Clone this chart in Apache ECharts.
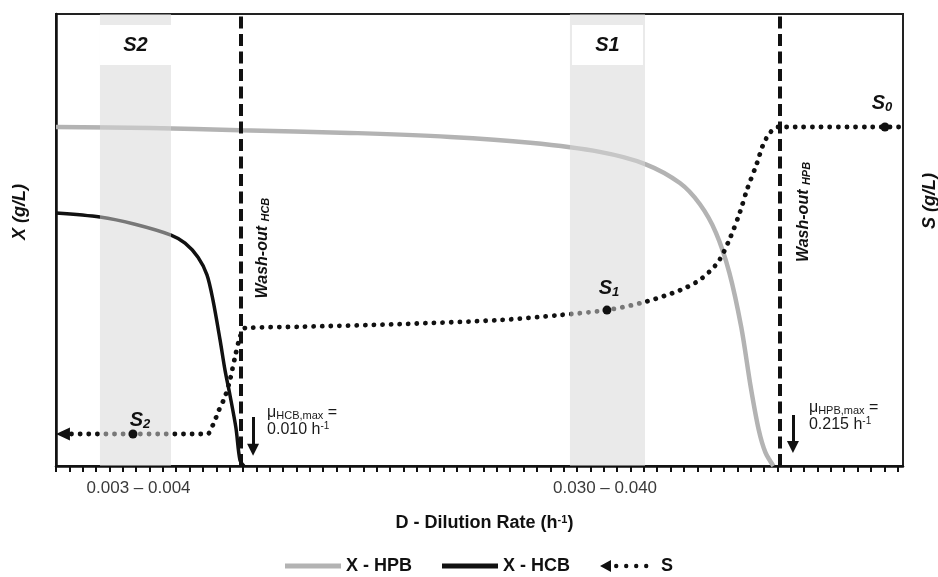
<!DOCTYPE html>
<html><head><meta charset="utf-8">
<script src="https://cdn.jsdelivr.net/npm/echarts@6/dist/echarts.min.js"></script>
<style>html,body{margin:0;padding:0;background:#fff}#c{width:938px;height:577px}</style>
</head><body><div id="c"></div>
<script>
// ---- data (schematic units: x in tick steps, y in % of axis height) ----
const hpbX = [0, 7.04, 13.77, 22.0, 29.5, 35.5, 40.7, 44.1, 46.7, 48.2, 49.4, 50.4, 51.3, 52.0, 52.6, 53.1, 53.7];
const hpbY = [75.0, 74.8, 74.3, 73.7, 72.8, 71.5, 69.5, 66.8, 62.6, 57.9, 51.6, 42.8, 30.6, 17.5, 8.0, 3.0, 0];

const hcbX = [0, 3.29, 5.91, 8.61, 9.66, 10.63, 11.30, 11.75, 12.28, 12.65, 13.02, 13.47, 13.77, 14.07];
const hcbY = [56.0, 55.1, 53.5, 51.1, 49.3, 46.2, 42.3, 36.7, 27.9, 21.2, 15.7, 8.4, 1.3, 0];

const sX = [0.52, 11.3, 11.75, 12.2, 12.65, 13.02, 13.40, 13.77, 14.15, 18.26, 25.75, 33.23, 37.72, 41.24, 44.09, 46.71, 48.2, 49.55, 50.45, 51.2, 51.72, 52.47, 52.92, 53.44, 54.04, 63.4];
const sY = [7.08, 7.08, 9.1, 12.4, 15.3, 19.0, 24.1, 28.5, 30.5, 30.8, 31.4, 32.3, 33.4, 34.5, 36.3, 38.9, 41.2, 45.1, 50.4, 56.2, 61.1, 67.0, 71.0, 73.7, 75.0, 75.0];

const sPointNames = ['2', '1', '0'];
const sPointX = [5.76, 41.24, 62.05];
const sPointY = [7.08, 34.5, 75.0];

const bandNames = ['S2', 'S1'];
const bandFrom = [3.29, 38.47];
const bandTo = [8.61, 44.09];

const washoutNames = ['HCB', 'HPB'];
const washoutX = [13.82, 54.19];

const muNames = ['HCB', 'HPB'];
const muValues = ['0.010', '0.215'];

const xTickValues = [0,1,2,3,4,5,6,7,8,9,10,11,12,13,14,15,16,17,18,19,20,21,22,23,24,25,26,27,28,29,30,31,32,33,34,35,36,37,38,39,40,41,42,43,44,45,46,47,48,49,50,51,52,53,54,55,56,57,58,59,60,61,62,63];
const xRangeLabels = ['0.003 – 0.004', '0.030 – 0.040'];
const xRangeLabelAt = [6.18, 41.1];

// ---- chart ----
const FONT = 'Liberation Sans, Arial, Helvetica, sans-serif';
const INK = '#111';
const GRAY = '#b3b3b3';
const pairs = (xs, ys) => xs.map((x, i) => [x, ys[i]]);

const sData = pairs(sX, sY).map((p, i) => i === 0
  ? { value: p, symbol: 'path://M0,5L10,0L10,10Z', symbolSize: [14, 13], itemStyle: { color: INK } }
  : { value: p });

const lineIcon = 'path://M0,0H56V5H0Z';
const sIcon = 'path://M0,-4.5 M56,9.5 M0,2.5L11,-3.5L11,8.5Z' +
  ' M14,2.5A2.2,2.2 0 1,0 18.4,2.5A2.2,2.2 0 1,0 14,2.5Z' +
  ' M24,2.5A2.2,2.2 0 1,0 28.4,2.5A2.2,2.2 0 1,0 24,2.5Z' +
  ' M34,2.5A2.2,2.2 0 1,0 38.4,2.5A2.2,2.2 0 1,0 34,2.5Z' +
  ' M44,2.5A2.2,2.2 0 1,0 48.4,2.5A2.2,2.2 0 1,0 44,2.5Z';

const subRich = {
  t: { fontFamily: FONT, fontSize: 16, color: '#1a1a1a' },
  s: { fontFamily: FONT, fontSize: 11, color: '#1a1a1a', verticalAlign: 'bottom', padding: [6, 0, 0, 0] },
  p: { fontFamily: FONT, fontSize: 10, color: '#1a1a1a', verticalAlign: 'top', padding: [0, 0, 6, 0] }
};

const option = {
  animation: false,
  backgroundColor: '#fff',
  textStyle: { fontFamily: FONT },
  grid: { left: 56, right: 35, top: 14, bottom: 111, outerBoundsMode: 'none', containLabel: false,
    show: true, borderColor: '#222', borderWidth: 2, backgroundColor: 'transparent' },
  legend: {
    left: 280, top: 552, itemGap: 30, itemWidth: 56, itemHeight: 14,
    textStyle: { fontFamily: FONT, fontSize: 18, fontWeight: 'bold', color: INK },
    data: [
      { name: 'X - HPB', icon: lineIcon, itemStyle: { color: GRAY, borderWidth: 0 } },
      { name: 'X - HCB', icon: lineIcon, itemStyle: { color: INK, borderWidth: 0 } },
      { name: 'S', icon: sIcon, itemStyle: { color: INK, borderWidth: 0 } }
    ]
  },
  xAxis: {
    type: 'value', min: 0, max: 63.4,
    name: 'D - Dilution Rate (h{sup|-1})', nameLocation: 'middle', nameGap: 48,
    nameTextStyle: {
      fontFamily: FONT, fontSize: 18, fontWeight: 'bold', color: INK, padding: [0, 0, 0, 10],
      rich: { sup: { fontFamily: FONT, fontSize: 11, fontWeight: 'bold', color: INK, verticalAlign: 'top', padding: [0, 0, 8, 0] } }
    },
    axisLine: { lineStyle: { color: INK, width: 2.5 } },
    axisTick: { show: true, customValues: xTickValues, length: 6, lineStyle: { color: INK, width: 2 } },
    axisLabel: {
      customValues: xRangeLabelAt, margin: 14, fontSize: 17, color: '#3a3a3a', fontFamily: FONT,
      formatter: v => { let b = 0; xRangeLabelAt.forEach((p, i) => { if (Math.abs(p - v) < Math.abs(xRangeLabelAt[b] - v)) b = i; }); return xRangeLabels[b]; }
    },
    splitLine: { show: false }
  },
  yAxis: [
    {
      type: 'value', min: 0, max: 100, position: 'left',
      name: 'X (g/L)', nameLocation: 'middle', nameRotate: 90, nameGap: 27,
      nameTextStyle: { fontFamily: FONT, fontSize: 18, fontWeight: 'bold', fontStyle: 'italic', color: INK, padding: [0, 0, 0, 56] },
      axisLine: { show: true, lineStyle: { color: INK, width: 2.5 } },
      axisTick: { show: false }, axisLabel: { show: false }, splitLine: { show: false }
    },
    {
      type: 'value', min: 0, max: 100, position: 'right',
      name: 'S (g/L)', nameLocation: 'middle', nameRotate: 90, nameGap: 18,
      nameTextStyle: { fontFamily: FONT, fontSize: 18, fontWeight: 'bold', fontStyle: 'italic', color: INK, padding: [0, 0, 0, 78] },
      axisLine: { show: true, lineStyle: { color: '#222', width: 2 } },
      axisTick: { show: false }, axisLabel: { show: false }, splitLine: { show: false }
    }
  ],
  series: [
    {
      name: 'X - HPB', type: 'line', yAxisIndex: 0, z: 2, color: GRAY,
      data: pairs(hpbX, hpbY), showSymbol: false, smooth: 0.3,
      lineStyle: { color: GRAY, width: 4.5 }
    },
    {
      name: 'X - HCB', type: 'line', yAxisIndex: 0, z: 3, color: INK,
      data: pairs(hcbX, hcbY), showSymbol: false, smooth: 0.3,
      lineStyle: { color: INK, width: 3.5 }
    },
    {
      name: 'S', type: 'line', yAxisIndex: 1, z: 3, color: INK,
      data: sData, symbol: 'none', showSymbol: true, showAllSymbol: true, smooth: 0.3,
      lineStyle: { color: INK, width: 4.8, type: [0.1, 8.5], cap: 'round' }
    },
    {
      name: 'bands', type: 'line', yAxisIndex: 0, z: 5, data: [], silent: true,
      markArea: {
        silent: true, z: 5,
        itemStyle: { color: 'rgba(215,215,215,0.52)' },
        label: {
          show: true, position: 'insideTop', distance: 11,
          backgroundColor: '#fff', width: 71, align: 'center', padding: [10, 0, 10, 0],
          formatter: p => '{b|' + p.name + '}',
          rich: { b: { fontFamily: FONT, fontSize: 20, fontWeight: 'bold', fontStyle: 'italic', color: INK, lineHeight: 20, align: 'center' } }
        },
        data: bandNames.map((n, i) => [{ name: n, xAxis: bandFrom[i] }, { xAxis: bandTo[i] }])
      }
    },
    {
      name: 'washout', type: 'line', yAxisIndex: 0, z: 4, data: [], silent: true,
      markLine: {
        silent: true, symbol: ['none', 'none'], label: { show: false },
        lineStyle: { color: INK, width: 4, type: [12, 5.5] },
        data: washoutX.map(x => ({ xAxis: x }))
      }
    },
    {
      name: 'arrows', type: 'line', yAxisIndex: 0, z: 4, data: [], silent: true,
      markLine: {
        silent: true, symbol: ['none', 'triangle'], symbolSize: 12, label: { show: false },
        lineStyle: { color: INK, width: 3, type: 'solid', opacity: 1 },
        data: [
          [{ coord: [14.75, 10.84] }, { coord: [14.75, 3.6] }],
          [{ coord: [55.16, 11.28] }, { coord: [55.16, 4.2] }]
        ]
      }
    },
    {
      name: 'S points', type: 'scatter', yAxisIndex: 1, z: 6, symbolSize: 9,
      itemStyle: { color: INK, opacity: 1 },
      data: sPointNames.map((n, i) => ({
        value: [sPointX[i], sPointY[i]], name: n,
        label: { offset: [[7, -14], [2, -22], [-3, -24]][i] }
      })),
      label: {
        show: true, position: 'inside',
        formatter: p => '{m|S}{s|' + p.name + '}',
        rich: {
          m: { fontFamily: FONT, fontSize: 20, fontWeight: 'bold', fontStyle: 'italic', color: INK },
          s: { fontFamily: FONT, fontSize: 13, fontWeight: 'bold', fontStyle: 'italic', color: INK, verticalAlign: 'bottom', padding: [8, 0, 0, 0] }
        }
      }
    },
    {
      name: 'washout text', type: 'scatter', yAxisIndex: 0, z: 6, symbolSize: 0, silent: true,
      itemStyle: { opacity: 1 },
      data: washoutNames.map((n, i) => ({ value: [[15.5, 55.95][i], [48.2, 56.2][i]], name: n })),
      label: {
        show: true, position: 'inside', rotate: 90,
        formatter: p => '{m|Wash-out }{s|' + p.name + '}',
        rich: {
          m: { fontFamily: FONT, fontSize: 16, fontWeight: 'bold', fontStyle: 'italic', color: INK },
          s: { fontFamily: FONT, fontSize: 11, fontWeight: 'bold', fontStyle: 'italic', color: INK, verticalAlign: 'bottom', padding: [6, 0, 0, 0] }
        }
      }
    },
    {
      name: 'mu text', type: 'scatter', yAxisIndex: 0, z: 6, symbolSize: 0, silent: true,
      itemStyle: { opacity: 1 },
      data: muNames.map((n, i) => ({ value: [[15.8, 56.36][i], [9.85, 11.06][i]], name: n, muv: muValues[i] })),
      label: {
        show: true, position: 'right', distance: 0, lineHeight: 17,
        formatter: p => '{t|μ}{s|' + p.name + ',max}{t| =}\n{t|' + p.data.muv + ' h}{p|-1}',
        rich: subRich
      }
    }
  ]
};

const chart = echarts.init(document.getElementById('c'), null, { renderer: 'canvas' });
chart.setOption(option);
</script></body></html>
